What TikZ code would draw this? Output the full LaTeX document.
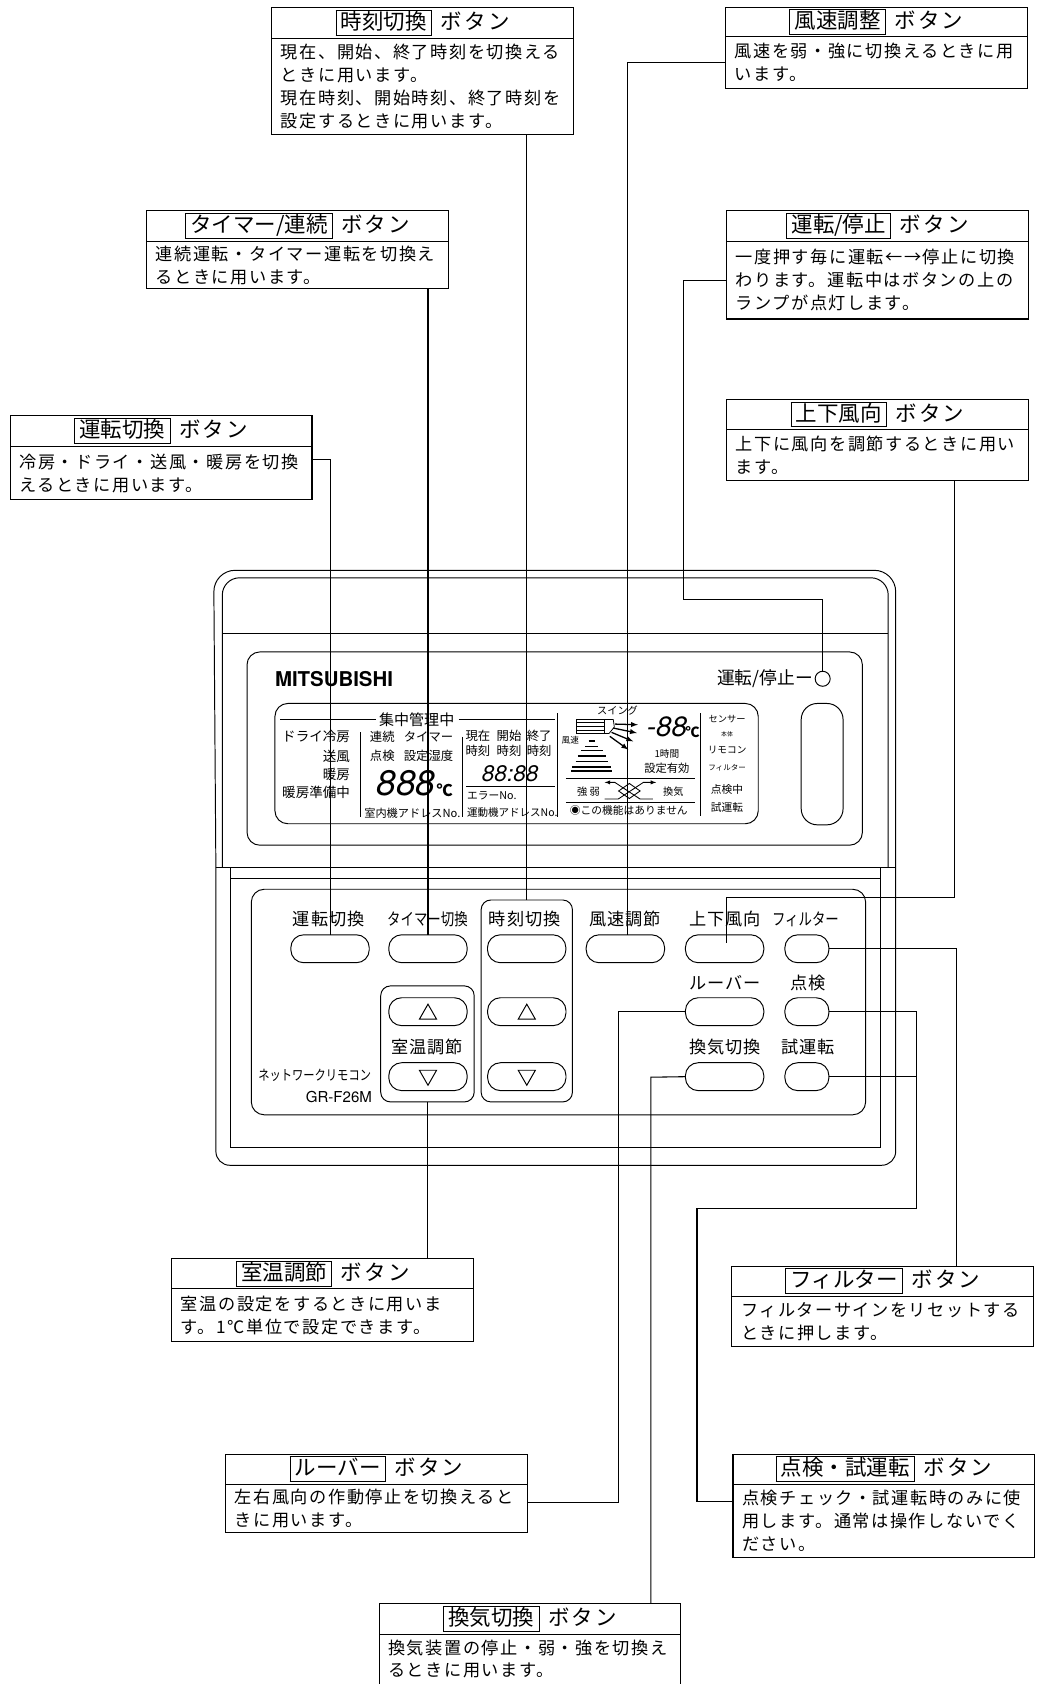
\documentclass[tikz,border=0pt]{standalone}
\usepackage{fontspec}
\usepackage{graphicx}
\setmainfont{Noto Sans CJK JP}
\newfontfamily\bodyfont[LetterSpace=9]{Noto Sans CJK JP}
\newfontfamily\titlefont[LetterSpace=10]{Noto Sans CJK JP}
\newfontfamily\keyfont[LetterSpace=5]{Noto Sans CJK JP}
\newfontfamily\segfont{TeX Gyre Heros}
\usetikzlibrary{positioning}

\newcommand{\tagbox}[1]{{\setlength{\fboxsep}{0pt}\setlength{\fboxrule}{.9pt}\fbox{\rule[-5pt]{0pt}{22pt}\hspace{4pt}#1\hspace{4pt}}}}
\newcommand{\headtext}[1]{\tagbox{#1}\hspace{8pt}{\titlefont ボタン}}
\newcommand{\tallkana}[1]{\scalebox{1}[1.25]{#1}}

\tikzset{
  headbox/.style={draw,line width=1pt,inner sep=0pt,outer sep=0pt,minimum width=281pt,minimum height=#1,font=\fontsize{20}{24}\selectfont},
  bodybox/.style={draw,line width=1pt,inner xsep=8.5pt,inner ysep=0pt,outer sep=0pt,text width=264pt,minimum height=#1,align=left,font=\bodyfont\fontsize{16}{21.3}\selectfont},
  wire/.style={line width=1pt},
  panel/.style={line width=.9pt},
  keybtn/.style={draw,line width=.9pt,rectangle,rounded corners=12pt,inner sep=0pt,outer sep=0pt,minimum width=#1,minimum height=26pt},
  keygroup/.style={draw,line width=.9pt,rectangle,rounded corners=9pt,inner sep=0pt,outer sep=0pt},
  keylabel/.style={inner sep=0pt,font=\keyfont\fontsize{16}{18}\selectfont},
  narrowlabel/.style={inner sep=0pt,font=\fontsize{12.5}{15}\selectfont},
  lcdtext/.style={inner sep=0pt,font=\fontsize{#1}{#1}\selectfont},
  segtext/.style={inner sep=0pt,font=\segfont\itshape\fontsize{#1}{#1}\selectfont},
  keymark/.style={line width=.9pt},
}

\begin{document}
\begin{tikzpicture}[x=1pt,y=-1pt]
  \fill[white] (0,0) rectangle (968,1568);
  \useasboundingbox (0,0) rectangle (968,1568);

  % Case
  \draw[panel,rounded corners=20pt] (201,808) -- (199,531) -- (834,531) -- (834,808);
  \draw[panel,rounded corners=13pt] (201,808) -- (201,1085) -- (834,1085) -- (834,808);
  \draw[panel,rounded corners=16pt] (207,808) -- (207,538) -- (827,538) -- (827,808);
  \draw[panel] (207,590) -- (827,590);
  \draw[panel] (201,808) -- (834,808);
  \draw[panel] (215,808) -- (215,1068) -- (820,1068) -- (820,808);
  \draw[line width=1.2pt] (215,818) -- (820,818);

  % Display
  \draw[panel,rounded corners=12pt] (230,607) rectangle (803,787);
  \draw[panel,rounded corners=12pt] (256,655) rectangle (706,767);
  \draw[panel,rounded corners=15pt] (746,655) rectangle (785,768);
  \node[inner sep=0pt,font=\segfont\bfseries\fontsize{19}{19}\selectfont] (brand) at (311,632) {MITSUBISHI};
  \node[lcdtext=16.5,anchor=east] (lamplabel) at (757,632) {運転/停止ー};
  \node[draw,circle,line width=.9pt,inner sep=0pt,outer sep=0pt,minimum size=14pt] (lamp) at (766,632) {};

  % Display, left half
  \draw[panel] (261,670) -- (350,670);
  \node[lcdtext=14] (lcdcentral) at (388,670) {集中管理中};
  \draw[panel] (427,670) -- (517,670);
  \node[lcdtext=12.6,anchor=east] (lcddry) at (326,686) {ドライ冷房};
  \node[lcdtext=12.6,anchor=east] (lcdfan) at (326,704) {送風};
  \node[lcdtext=12.6,anchor=east] (lcdheat) at (326,721) {暖房};
  \node[lcdtext=12.6,anchor=east] (lcdprep) at (326,738) {暖房準備中};
  \draw[panel] (336,682) -- (336,761);
  \node[lcdtext=11.5] (lcdcont) at (356,686) {連続};
  \node[lcdtext=11.5] (lcdtimer) at (399,686) {タイマー};
  \node[lcdtext=11.5] (lcdcheck) at (356,704) {点検};
  \node[lcdtext=11.5] (lcdhumid) at (399,704) {設定湿度};
  \node[segtext=33] (lcdtemp) at (378,729) {888};
  \node[lcdtext=15,font=\bfseries\fontsize{15}{15}\selectfont] (lcddeg) at (414,736) {℃};
  \node[lcdtext=10.4] (lcdindoor) at (384,757) {室内機アドレスNo.};
  \draw[panel] (431,686) -- (431,761);
  \node[lcdtext=11.5] (lcdnow) at (445,685) {現在};
  \node[lcdtext=11.5] (lcdstart) at (474,685) {開始};
  \node[lcdtext=11.5] (lcdend) at (502,685) {終了};
  \node[lcdtext=11.5] (lcdnowb) at (445,699) {時刻};
  \node[lcdtext=11.5] (lcdstartb) at (474,699) {時刻};
  \node[lcdtext=11.5] (lcdendb) at (502,699) {時刻};
  \node[segtext=21] (lcdclock) at (475,720) {88:88};
  \draw[panel] (434,732) -- (517,732);
  \node[lcdtext=10] (lcderror) at (458,741) {エラーNo.};
  \node[lcdtext=9.8] (lcdrun) at (477,757) {運動機アドレスNo.};
  \draw[panel] (519,664) -- (519,761);

  % Display, right half
  \node[lcdtext=9.5] (lcdswing) at (575,662) {スイング};
  \draw[line width=.7pt] (537,670) rectangle (563,683);
  \draw[line width=.7pt] (537,673) -- (563,673) (537,676.5) -- (563,676.5) (537,680) -- (563,680);
  \draw[line width=.7pt] (563,670) -- (571,670) -- (572,677) -- (567,683) -- (563,683);
  \draw[line width=1.2pt,-latex] (572.5,674.2) -- (594,674.8);
  \draw[line width=1.2pt,-latex] (571,677.9) -- (593,682.5);
  \draw[line width=1.2pt,-latex] (569.4,681.9) -- (589.6,690.3);
  \draw[line width=1.2pt,-latex] (567.8,685.6) -- (585,698);
  \node[lcdtext=8] (lcdspeed) at (531,689) {風速};
  \draw[line width=1.1pt] (548,690) -- (554,690);
  \draw[line width=1.1pt] (545,695) -- (557,695);
  \draw[line width=1.1pt] (541,699) -- (561,699);
  \draw[line width=1.1pt] (538,704) -- (564,704);
  \draw[line width=1.1pt] (536,709) -- (566,709);
  \draw[line width=1.3pt] (533,714) -- (569,714);
  \draw[line width=1.3pt] (532,718) -- (570,718);
  \node[segtext=26] (lcdset) at (621,677) {-88};
  \node[lcdtext=13,font=\bfseries\fontsize{13}{13}\selectfont] (lcdsetdeg) at (645,682) {℃};
  \node[lcdtext=9] (lcdhour) at (621,702) {1時間};
  \node[lcdtext=10.5] (lcdvalid) at (621,715) {設定有効};
  \draw[panel] (527,725) -- (647,725);
  \node[lcdtext=9.5] (lcdstrong) at (548,737) {強 弱};
  \node[lcdtext=9.5] (lcdvent) at (627,737) {換気};
  \draw[line width=.8pt,latex-] (563,728.5) -- (572.5,728.5) -- (596,744) -- (608,744);
  \draw[line width=.8pt,-latex] (563,744) -- (575.6,744) -- (599,728.5) -- (611,728.5);
  \draw[line width=.8pt] (576,736.5) -- (586,729.5) -- (596,736.5) -- (586,743.5) -- cycle;
  \draw[panel] (527,747) -- (647,747);
  \node[lcdtext=10] (lcdnone) at (585.5,755) {◉この機能はありません};
  \draw[panel] (652,664) -- (652,760);
  \node[lcdtext=8.6] (lcdsensor) at (677,669.5) {センサー};
  \node[lcdtext=5.5] (lcdbody) at (677,684) {本体};
  \node[lcdtext=9] (lcdremote) at (677,698) {リモコン};
  \node[lcdtext=7] (lcdfilter) at (677,715) {フィルター};
  \node[lcdtext=10] (lcdchecking) at (677,735) {点検中};
  \node[lcdtext=10] (lcdtrial) at (677,752) {試運転};

  % Keypad
  \draw[panel,rounded corners=12pt] (234,828) rectangle (806,1038);
  \node[keygroup,minimum width=85pt,minimum height=188pt] (groupclock) at (490.5,932) {};
  \node[keygroup,minimum width=87pt,minimum height=108pt] (grouproom) at (398,972) {};

  \node[keylabel] (labelmode) at (306,856) {運転切換};
  \node[narrowlabel] (labeltimer) at (398,856) {\tallkana{タイマー切換}};
  \node[keylabel] (labelclock) at (488.5,856) {時刻切換};
  \node[keylabel] (labelair) at (582,856) {風速調節};
  \node[keylabel] (labelupdown) at (675,856) {上下風向};
  \node[narrowlabel] (labelfilter) at (750,856) {\tallkana{フィルター}};
  \node[keylabel] (labellouver) at (675,915) {ルーバー};
  \node[keylabel] (labelcheck) at (752,915) {点検};
  \node[keylabel] (labelroom) at (398,975) {室温調節};
  \node[keylabel] (labelvent) at (675,975) {換気切換};
  \node[keylabel] (labeltrial) at (752,975) {試運転};
  \node[lcdtext=10.5] (labelnet) at (293,1001) {\tallkana{ネットワークリモコン}};
  \node[inner sep=0pt,anchor=east,font=\segfont\fontsize{14}{14}\selectfont] (labelmodel) at (346.5,1021) {GR-F26M};

  \node[keybtn=73pt] (btnmode) at (307.3,883.4) {};
  \node[keybtn=73pt] (btntimer) at (398.5,883.4) {};
  \node[keybtn=73pt] (btnclock) at (490.4,883.4) {};
  \node[keybtn=73pt] (btnair) at (582.3,883.4) {};
  \node[keybtn=73pt] (btnupdown) at (674.7,883.4) {};
  \node[keybtn=41pt] (btnfilter) at (751.3,883.4) {};
  \node[keybtn=73pt] (btnroomup) at (398.5,942) {};
  \node[keybtn=73pt] (btnclockup) at (490.5,942) {};
  \node[keybtn=73pt] (btnlouver) at (674.7,942) {};
  \node[keybtn=41pt] (btncheck) at (751.3,942) {};
  \node[keybtn=73pt] (btnroomdown) at (398.5,1002.5) {};
  \node[keybtn=73pt] (btnclockdown) at (490.5,1002.5) {};
  \node[keybtn=73pt] (btnvent) at (674.7,1002.5) {};
  \node[keybtn=41pt] (btntrial) at (751.3,1002.5) {};
  \draw[keymark] (btnroomup.center) ++(0,-7) -- ++(8,14) -- ++(-16,0) -- cycle;
  \draw[keymark] (btnclockup.center) ++(0,-7) -- ++(8,14) -- ++(-16,0) -- cycle;
  \draw[keymark] (btnroomdown.center) ++(0,8) -- ++(8,-14) -- ++(-16,0) -- cycle;
  \draw[keymark] (btnclockdown.center) ++(0,8) -- ++(8,-14) -- ++(-16,0) -- cycle;

  % Callouts
  \node[headbox=29pt] (headclock) at (393.5,21.5) {\headtext{時刻切換}};
  \node[bodybox=89pt,below=0pt of headclock] (bodyclock) {現在、開始、終了時刻を切換える\\ときに用います。\\現在時刻、開始時刻、終了時刻を\\設定するときに用います。};

  \node[headbox=29pt] (headtimer) at (277,210.5) {\headtext{タイマー/連続}};
  \node[bodybox=44pt,below=0pt of headtimer] (bodytimer) {連続運転・タイマー運転を切換え\\るときに用います。};

  \node[headbox=29pt] (headmode) at (150,401.5) {\headtext{運転切換}};
  \node[bodybox=49pt,below=0pt of headmode] (bodymode) {冷房・ドライ・送風・暖房を切換\\えるときに用います。};

  \node[headbox=27pt] (headair) at (816,20.5) {\headtext{風速調整}};
  \node[bodybox=48pt,below=0pt of headair] (bodyair) {風速を弱・強に切換えるときに用\\います。};

  \node[headbox=29pt] (headrun) at (817,210.5) {\headtext{運転/停止}};
  \node[bodybox=72pt,below=0pt of headrun] (bodyrun) {一度押す毎に運転←→停止に切換\\わります。運転中はボタンの上の\\ランプが点灯します。};

  \node[headbox=28pt] (headupdown) at (817,386) {\headtext{上下風向}};
  \node[bodybox=47pt,below=0pt of headupdown] (bodyupdown) {上下に風向を調節するときに用い\\ます。};

  \node[headbox=28pt] (headroom) at (300.5,1186) {\headtext{室温調節}};
  \node[bodybox=49pt,below=0pt of headroom] (bodyroom) {室温の設定をするときに用いま\\す。1℃単位で設定できます。};

  \node[headbox=28pt] (headlouver) at (350.5,1368) {\headtext{ルーバー}};
  \node[bodybox=45pt,below=0pt of headlouver] (bodylouver) {左右風向の作動停止を切換えると\\きに用います。};

  \node[headbox=29pt] (headvent) at (493.5,1507.5) {\headtext{換気切換}};
  \node[bodybox=52pt,below=0pt of headvent] (bodyvent) {換気装置の停止・弱・強を切換え\\るときに用います。\rule[-8pt]{0pt}{8pt}};

  \node[headbox=28pt] (headfilter) at (822,1193) {\headtext{フィルター}};
  \node[bodybox=47pt,below=0pt of headfilter] (bodyfilter) {フィルターサインをリセットする\\ときに押します。};

  \node[headbox=28pt] (headcheck) at (823,1368) {\headtext{点検・試運転}};
  \node[bodybox=68pt,below=0pt of headcheck] (bodycheck) {点検チェック・試運転時のみに使\\用します。通常は操作しないでく\\ださい。};

  % Connectors
  \coordinate (runbend) at (636,558);
  \coordinate (updownbend) at (889,836);
  \coordinate (louverbend) at (576,942);
  \coordinate (ventbend) at (606,1003);
  \coordinate (checkbend) at (853,1125);
  \coordinate (checkleft) at (649,1125);

  \draw[wire] (bodyclock.south -| groupclock.north) -- (groupclock.north);
  \draw[wire] (bodytimer.south -| btntimer.north) -- (btntimer.north);
  \draw[wire] ([yshift=13pt]bodymode.east) -| (btnmode.north);
  \draw[wire] (bodyair.west) -| ([xshift=2pt]btnair.north);
  \draw[wire] (bodyrun.west) -| (runbend) -| (lamp.north);
  \draw[wire] (bodyupdown.south -| updownbend) -- (updownbend) -| ([xshift=2pt,yshift=-8pt]btnupdown.north);
  \draw[wire] (btnfilter.east) -| ([xshift=69pt]headfilter.north);
  \draw[wire] ([yshift=5.5pt]bodylouver.east) -| (louverbend) -- (btnlouver.west);
  \draw[wire] (headvent.north -| ventbend) -- (ventbend) -- (btnvent.west);
  \draw[wire] (btncheck.east) -| (checkbend) -- (checkleft) |- ([yshift=18pt]bodycheck.west);
  \draw[wire] (btntrial.east) -- (btntrial.east -| checkbend);
  \draw[wire] (grouproom.south) -- (grouproom.south |- headroom.north);
\end{tikzpicture}
\end{document}
